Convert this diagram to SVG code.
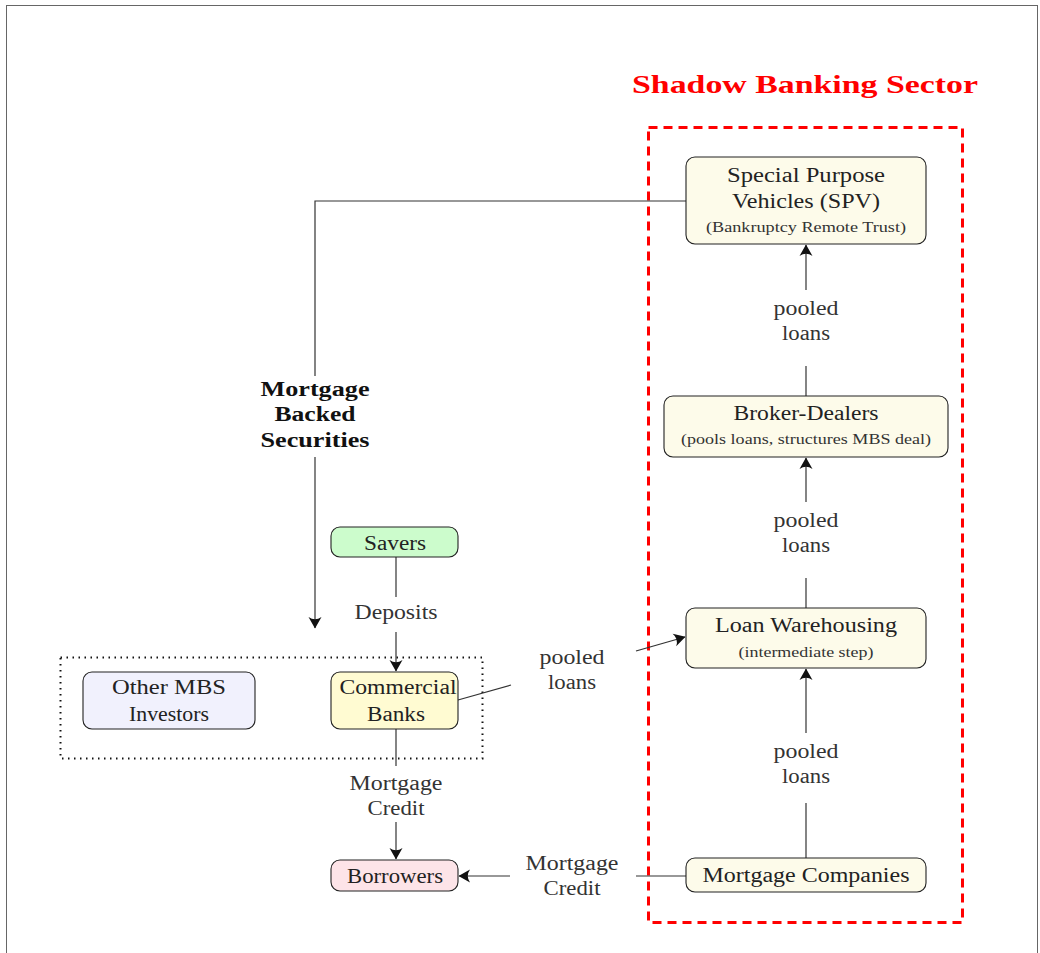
<svg xmlns="http://www.w3.org/2000/svg" width="1040" height="953" viewBox="0 0 1040 953">
<defs>
<style>
.t{font-family:"Liberation Serif","DejaVu Serif",serif;font-size:20px;fill:#222;text-anchor:middle}
.s{font-family:"Liberation Serif","DejaVu Serif",serif;font-size:14px;fill:#333;text-anchor:middle}
.l{font-family:"Liberation Serif","DejaVu Serif",serif;font-size:20px;fill:#333;text-anchor:middle}
.b{font-family:"Liberation Serif","DejaVu Serif",serif;font-size:20px;font-weight:bold;fill:#111;text-anchor:middle}
.node{stroke:#222;stroke-width:1.1}
.sh{fill:#fdfbea}
.e{fill:none;stroke:#333;stroke-width:1.2}
</style>
<marker id="ah" viewBox="-13 -8 14 16" refX="0" refY="0" markerWidth="14" markerHeight="16" markerUnits="userSpaceOnUse" orient="auto">
<path d="M0.5,0 L-11,-6.5 Q-6.5,0 -11,6.5 Z" fill="#111"/>
</marker>
</defs>
<rect x="6.5" y="5.5" width="1031" height="960" fill="#fff" stroke="#666" stroke-width="1"/>
<g id="shadow-sector">
<rect x="648.5" y="127.5" width="314" height="795" fill="none" stroke="#f00" stroke-width="3" stroke-dasharray="9,6"/>
<text x="805" y="93" font-family="Liberation Serif, DejaVu Serif, serif" font-size="26" font-weight="bold" fill="#f00" text-anchor="middle" textLength="346" lengthAdjust="spacingAndGlyphs">Shadow Banking Sector</text>
</g>
<g id="investor-group">
<rect x="60.5" y="657.5" width="422" height="101" fill="none" stroke="#111" stroke-width="2" stroke-dasharray="1.5,4.5"/>
</g>
<g id="connectors">
<path class="e" d="M806,396 V366"/>
<path class="e" d="M806,290 V245" marker-end="url(#ah)"/>
<text class="l" x="806" y="315" textLength="65" lengthAdjust="spacingAndGlyphs">pooled</text>
<text class="l" x="806" y="340" textLength="48" lengthAdjust="spacingAndGlyphs">loans</text>
<path class="e" d="M806,608 V578"/>
<path class="e" d="M806,502 V458" marker-end="url(#ah)"/>
<text class="l" x="806" y="527" textLength="65" lengthAdjust="spacingAndGlyphs">pooled</text>
<text class="l" x="806" y="552" textLength="48" lengthAdjust="spacingAndGlyphs">loans</text>
<path class="e" d="M806,858 V803"/>
<path class="e" d="M806,733 V669" marker-end="url(#ah)"/>
<text class="l" x="806" y="758" textLength="65" lengthAdjust="spacingAndGlyphs">pooled</text>
<text class="l" x="806" y="783" textLength="48" lengthAdjust="spacingAndGlyphs">loans</text>
<path class="e" d="M686,876 H636"/>
<path class="e" d="M510,876 H459" marker-end="url(#ah)"/>
<text class="l" x="572" y="870" textLength="93" lengthAdjust="spacingAndGlyphs">Mortgage</text>
<text class="l" x="572" y="895" textLength="57" lengthAdjust="spacingAndGlyphs">Credit</text>
<path class="e" d="M396,557 V597"/>
<path class="e" d="M396,632 V671" marker-end="url(#ah)"/>
<text class="l" x="396" y="619" textLength="83" lengthAdjust="spacingAndGlyphs">Deposits</text>
<path class="e" d="M396,729 V766"/>
<path class="e" d="M396,822 V859" marker-end="url(#ah)"/>
<text class="l" x="396" y="790" textLength="93" lengthAdjust="spacingAndGlyphs">Mortgage</text>
<text class="l" x="396" y="815" textLength="57" lengthAdjust="spacingAndGlyphs">Credit</text>
<path class="e" d="M458,700 L511,685"/>
<path class="e" d="M636,651 L685,637" marker-end="url(#ah)"/>
<text class="l" x="572" y="664" textLength="65" lengthAdjust="spacingAndGlyphs">pooled</text>
<text class="l" x="572" y="689" textLength="48" lengthAdjust="spacingAndGlyphs">loans</text>
<path class="e" d="M686,201 H315 V376"/>
<path class="e" d="M315,457 V628" marker-end="url(#ah)"/>
<text class="b" x="315" y="396" textLength="109" lengthAdjust="spacingAndGlyphs">Mortgage</text>
<text class="b" x="315" y="421" textLength="81" lengthAdjust="spacingAndGlyphs">Backed</text>
<text class="b" x="315" y="447" textLength="109" lengthAdjust="spacingAndGlyphs">Securities</text>
</g>
<g id="spv">
<rect class="node sh" x="686" y="157" width="240" height="87" rx="9"/>
<text class="t" x="806" y="182" textLength="158" lengthAdjust="spacingAndGlyphs">Special Purpose</text>
<text class="t" x="806" y="208" textLength="148" lengthAdjust="spacingAndGlyphs">Vehicles (SPV)</text>
<text class="s" x="806" y="232" textLength="200" lengthAdjust="spacingAndGlyphs">(Bankruptcy Remote Trust)</text>
</g>
<g id="broker-dealers">
<rect class="node sh" x="664" y="396" width="284" height="61" rx="9"/>
<text class="t" x="806" y="420" textLength="145" lengthAdjust="spacingAndGlyphs">Broker-Dealers</text>
<text class="s" x="806" y="444" textLength="250" lengthAdjust="spacingAndGlyphs">(pools loans, structures MBS deal)</text>
</g>
<g id="loan-warehousing">
<rect class="node sh" x="686" y="608" width="240" height="60" rx="9"/>
<text class="t" x="806" y="632" textLength="182" lengthAdjust="spacingAndGlyphs">Loan Warehousing</text>
<text class="s" x="806" y="657" textLength="135" lengthAdjust="spacingAndGlyphs">(intermediate step)</text>
</g>
<g id="mortgage-companies">
<rect class="node sh" x="686" y="858" width="240" height="34" rx="9"/>
<text class="t" x="806" y="882" textLength="207" lengthAdjust="spacingAndGlyphs">Mortgage Companies</text>
</g>
<g id="borrowers">
<rect class="node" x="331" y="860" width="127" height="31" rx="9" fill="#fde4e8"/>
<text class="t" x="395" y="883" textLength="96" lengthAdjust="spacingAndGlyphs">Borrowers</text>
</g>
<g id="savers">
<rect class="node" x="331" y="527" width="127" height="30" rx="9" fill="#ccfccc"/>
<text class="t" x="395" y="550" textLength="62" lengthAdjust="spacingAndGlyphs">Savers</text>
</g>
<g id="commercial-banks">
<rect class="node" x="331" y="672" width="127" height="57" rx="9" fill="#fffbd2"/>
<text class="t" x="398" y="694" textLength="117" lengthAdjust="spacingAndGlyphs">Commercial</text>
<text class="t" x="396" y="721" textLength="58" lengthAdjust="spacingAndGlyphs">Banks</text>
</g>
<g id="other-mbs-investors">
<rect class="node" x="83" y="672" width="172" height="57" rx="9" fill="#f1f1fd"/>
<text class="t" x="169" y="694" textLength="114" lengthAdjust="spacingAndGlyphs">Other MBS</text>
<text class="t" x="169" y="721" textLength="80" lengthAdjust="spacingAndGlyphs">Investors</text>
</g>
</svg>
